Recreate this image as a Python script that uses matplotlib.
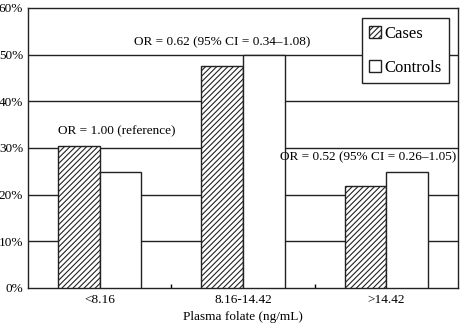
import matplotlib.pyplot as plt
import numpy as np

# Datos
categories = ['<8.16', '8.16-14.42', '>14.42']
cases = [30.4, 47.5, 21.9]
controls = [24.8, 50.0, 24.8]
or_labels = ['OR = 1.00 (reference)',
             'OR = 0.62 (95% CI = 0.34\u20131.08)',
             'OR = 0.52 (95% CI = 0.26\u20131.05)']

plt.rcParams['font.family'] = ['Liberation Serif', 'DejaVu Serif']
plt.rcParams['hatch.linewidth'] = 0.8

fig = plt.figure(figsize=(4.74, 3.36), dpi=100)
ax = fig.add_axes([28 / 474, 48 / 336, 430 / 474, 280 / 336])

x = np.arange(len(categories))
w = 0.29
ax.bar(x - w / 2, cases, w, color='white', edgecolor='#222222', hatch='//////',
       linewidth=1.0, label='Cases', zorder=3)
ax.bar(x + w / 2, controls, w, color='white', edgecolor='#222222',
       linewidth=1.0, label='Controls', zorder=3)

# Líneas horizontales
for g in range(10, 60, 10):
    ax.axhline(g, color='#222222', linewidth=1.0, zorder=1)

ax.set_xlim(-0.5, 2.5)
ax.set_ylim(0, 60)
ax.set_yticks(range(0, 61, 10))
ax.set_yticklabels([f'{v}%' for v in range(0, 61, 10)], fontsize=9.5)
ax.tick_params(axis='y', length=0, pad=3.5)
ax.set_xticks(x)
ax.set_xticklabels(categories, fontsize=9.5)
ax.tick_params(axis='x', length=0, pad=4)
ax.set_xticks([0.5, 1.5], minor=True)
ax.tick_params(axis='x', which='minor', direction='in', length=3, width=1)
ax.set_xlabel('Plasma folate (ng/mL)', fontsize=9.5, labelpad=4)
for s in ax.spines.values():
    s.set_linewidth(1.0)
    s.set_color('#222222')

# Anotaciones OR
ax.text(-0.29, 33.5, or_labels[0], ha='left', va='center', fontsize=9.5)
ax.text(0.857, 52.7, or_labels[1], ha='center', va='center', fontsize=9.5)
ax.text(1.876, 28.0, or_labels[2], ha='center', va='center', fontsize=9.5)

leg = ax.legend(loc='upper right', bbox_to_anchor=(0.979, 0.964), fontsize=12,
                fancybox=False, framealpha=1, edgecolor='#222222',
                handlelength=0.7, handleheight=0.7, handletextpad=0.2,
                labelspacing=1.1, borderpad=0.45, borderaxespad=0)
leg.get_frame().set_linewidth(1.0)

fig.savefig('out.png', dpi=100)
